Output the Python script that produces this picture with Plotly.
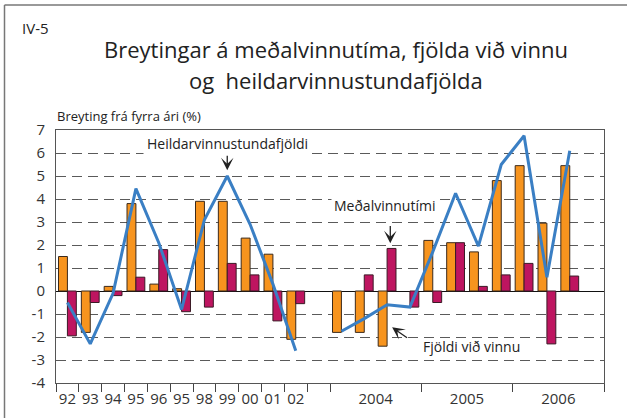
import plotly.graph_objects as go

# Annual slots 1992-2002, one empty slot, then quarters 2004Q1-2006Q4
annual_labels = ["92", "93", "94", "95", "96", "95", "98", "99", "00", "01", "02"]
year_labels = ["2004", "2005", "2006"]

# Fjöldi við vinnu (orange bars)
employed_annual = [1.5, -1.8, 0.2, 3.8, 0.3, 0.1, 3.9, 3.9, 2.3, 1.6, -2.1]
employed_2004 = [-1.8, -1.8, -2.4, None]
employed_2005 = [2.2, 2.1, 1.7, 4.8]
employed_2006 = [5.45, 2.95, 5.45, None]

# Meðalvinnutími (magenta bars)
avghours_annual = [-1.95, -0.5, -0.2, 0.6, 1.8, -0.9, -0.7, 1.2, 0.7, -1.3, -0.55]
avghours_2004 = [None, 0.7, 1.85, -0.7]
avghours_2005 = [-0.5, 2.1, 0.2, 0.7]
avghours_2006 = [1.2, -2.3, 0.65, None]

# Heildarvinnustundafjöldi (line)
total_annual = [-0.5, -2.3, -0.1, 4.45, 2.1, -0.8, 3.1, 5.0, 2.9, 0.3, -2.6]
total_2004 = [-1.75, -1.2, -0.6, -0.7]
total_2005 = [1.7, 4.25, 1.95, 5.5]
total_2006 = [6.75, 0.6, 6.1, None]

gap = [None]
employed = employed_annual + gap + employed_2004 + employed_2005 + employed_2006
avghours = avghours_annual + gap + avghours_2004 + avghours_2005 + avghours_2006
total = total_annual + gap + total_2004 + total_2005 + total_2006
xpos = list(range(len(employed)))

n_annual = len(annual_labels)
q_start = n_annual + 1
boundaries = [i - 0.5 for i in range(n_annual + 2)] + [q_start - 0.5 + 4 * k for k in range(1, 4)]
label_pos = list(range(n_annual)) + [q_start + 1.5 + 4 * k for k in range(3)]
label_text = annual_labels + year_labels

yticks = list(range(-4, 8))
ytext = [str(v) for v in yticks]

FONT = "Open Sans"
ORANGE = "#F7941E"
MAGENTA = "#BE1560"
BLUE = "#3A7FC4"

W, H = 627, 418
ML, MR, MT, MB = 56, 23, 130, 35
PW, PH = W - ML - MR, H - MT - MB


def px(xp):
    return (xp - ML) / PW


def py(yp):
    return (H - MB - yp) / PH


fig = go.Figure()
fig.add_trace(go.Bar(x=xpos, y=employed, name="Fjöldi við vinnu",
                     marker=dict(color=ORANGE, line=dict(color="#3b2a1c", width=1))))
fig.add_trace(go.Bar(x=xpos, y=avghours, name="Meðalvinnutími",
                     marker=dict(color=MAGENTA, line=dict(color="#3b1a26", width=1))))
fig.add_trace(go.Scatter(x=xpos, y=total, name="Heildarvinnustundafjöldi", mode="lines",
                         line=dict(color=BLUE, width=3), connectgaps=False))
# invisible trace to carry the label axis
fig.add_trace(go.Scatter(x=[label_pos[0]], y=[0], xaxis="x2", mode="markers",
                         marker=dict(opacity=0), hoverinfo="skip"))

xr = [-0.5, len(xpos) - 0.5]
fig.update_layout(
    width=W, height=H,
    margin=dict(l=ML, r=MR, t=MT, b=MB, pad=0, autoexpand=False),
    paper_bgcolor="white", plot_bgcolor="white",
    showlegend=False,
    barmode="group", bargap=0.22, bargroupgap=0,
    font=dict(family=FONT, color="#333333"),
    xaxis=dict(range=xr, tickmode="array", tickvals=boundaries,
               ticktext=[""] * len(boundaries), ticks="outside", ticklen=8,
               tickcolor="#444", tickwidth=1, showgrid=False, zeroline=False,
               showline=True, linecolor="#555", linewidth=1, mirror=True,
               automargin=False),
    xaxis2=dict(range=xr, overlaying="x", anchor="y", side="bottom",
                tickmode="array", tickvals=label_pos, ticktext=label_text,
                ticks="outside", ticklen=2, tickcolor="rgba(0,0,0,0)",
                showgrid=False, zeroline=False, showline=False, automargin=False,
                tickfont=dict(size=15, color="#333")),
    yaxis=dict(range=[-4, 7], tickmode="array", tickvals=yticks, ticktext=ytext,
               ticks="outside", ticklen=7, tickcolor="rgba(0,0,0,0)",
               tickfont=dict(size=15, color="#333"), automargin=False,
               showgrid=True, gridcolor="#5a5a5a", gridwidth=1.2, griddash="10px,6px",
               zeroline=True, zerolinecolor="#111", zerolinewidth=1.2,
               showline=True, linecolor="#555", linewidth=1, mirror=True),
)

ann = []
ann.append(dict(xref="paper", yref="paper", x=px(20), y=py(28), text="IV-5",
                showarrow=False, xanchor="left", yanchor="middle",
                font=dict(size=15, color="#222")))
ann.append(dict(xref="paper", yref="paper", x=px(336), y=py(49),
                text="Breytingar á meðalvinnutíma, fjölda við vinnu",
                showarrow=False, xanchor="center", yanchor="middle",
                font=dict(size=22, color="#222")))
ann.append(dict(xref="paper", yref="paper", x=px(336), y=py(80),
                text="og  heildarvinnustundafjölda",
                showarrow=False, xanchor="center", yanchor="middle",
                font=dict(size=22, color="#222")))
ann.append(dict(xref="paper", yref="paper", x=px(55), y=py(116),
                text="Breyting frá fyrra ári (%)",
                showarrow=False, xanchor="left", yanchor="middle",
                font=dict(size=13, color="#222")))

# series labels inside the plot
ann.append(dict(x=7.0, y=6.4, text="Heildarvinnustundafjöldi", showarrow=False,
                bgcolor="white", borderpad=3, font=dict(size=14, color="#222")))
ann.append(dict(x=13.87, y=3.72, text="Meðalvinnutími", showarrow=False,
                bgcolor="white", borderpad=2, font=dict(size=14, color="#222")))
ann.append(dict(x=17.7, y=-2.4, text="Fjöldi við vinnu", showarrow=False,
                font=dict(size=14, color="#222")))

# pointer arrows
for (tx, ty, hx, hy) in [(7.0, 5.95, 7.0, 5.25), (14.14, 2.89, 14.14, 2.08),
                         (14.94, -2.08, 14.22, -1.58)]:
    ann.append(dict(x=hx, y=hy, ax=tx, ay=ty, axref="x", ayref="y", text="",
                    showarrow=True, arrowhead=3, arrowsize=1.6, arrowwidth=1.3,
                    arrowcolor="#222"))
fig.update_layout(annotations=ann)

# outer frame around the whole chart
fig.add_shape(type="line", xref="paper", yref="paper", x0=px(4.5), x1=px(W + 2),
              y0=py(5), y1=py(5), line=dict(color="#777", width=1.5))
fig.add_shape(type="line", xref="paper", yref="paper", x0=px(4.5), x1=px(4.5),
              y0=py(5), y1=py(H + 2), line=dict(color="#777", width=1.5))

fig.write_html("out.html")
